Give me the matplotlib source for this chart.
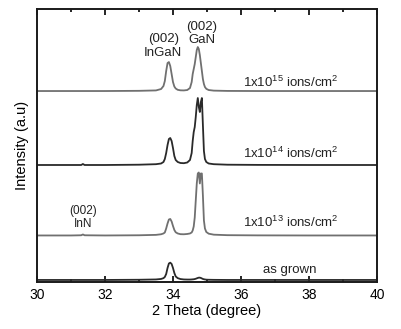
import matplotlib.pyplot as plt

plt.rcParams['font.family'] = ['Liberation Sans', 'DejaVu Sans']
plt.rcParams['mathtext.default'] = 'regular'

# shared 2-theta sampling (degrees)
two_theta = [30.0, 31.0, 31.3, 31.35, 31.4, 32.0, 33.0, 33.5, 33.65, 33.72,
             33.76, 33.80, 33.84, 33.88, 33.92, 33.96, 34.00, 34.04, 34.08, 34.14,
             34.22, 34.32, 34.42, 34.50, 34.55, 34.58, 34.61, 34.64, 34.67, 34.70,
             34.73, 34.76, 34.79, 34.82, 34.85, 34.88, 34.91, 34.94, 34.98, 35.05,
             35.2, 35.6, 36.5, 38.0, 40.0]

as_grown = [0, 0, 0, 0, 0, 0, 0.2, 0.5, 1.0, 1.8,
            3, 6, 12, 16.5, 17.3, 16, 12, 7, 3.5, 1.8,
            0.9, 0.5, 0.4, 0.4, 0.5, 0.6, 0.7, 0.9, 1.2, 1.6,
            2.0, 2.3, 2.3, 2.0, 1.5, 1.0, 0.7, 0.5, 0.3, 0.2,
            0.1, 0, 0, 0, 0]

dose_1e13 = [0, 0, 0.2, 1, 0.2, 0, 0.2, 0.6, 1.2, 2,
             3, 7, 12, 16, 16.5, 14, 9.5, 5.5, 3.2, 2,
             1.3, 1.2, 1.5, 2, 3, 5, 9, 18, 35, 52,
             62, 63, 52, 62, 62, 40, 15, 7, 3.5, 1.8,
             0.8, 0.3, 0.1, 0, 0]

dose_1e14 = [0, 0, 0, 1, 0, 0, 0.3, 0.8, 1.5, 3,
             6, 12, 20, 26, 27, 24, 17, 9, 5, 3,
             2, 1.8, 2.5, 5, 12, 24, 33, 38, 48, 60,
             67, 58, 53, 63, 67, 40, 14, 6, 3, 1.5,
             0.8, 0.3, 0.1, 0, 0]

dose_1e15 = [0, 0, 0, 0, 0, 0, 0.2, 0.6, 2, 5,
             10, 20, 28, 29, 25, 17, 9, 4.5, 2.5, 1.2,
             0.7, 0.6, 1, 3, 9, 17, 22, 27, 34, 41,
             44, 42, 36, 28, 20, 12, 7, 4, 2.2, 1,
             0.4, 0.1, 0, 0, 0]

curves = [as_grown, dose_1e13, dose_1e14, dose_1e15]
offsets = [2, 46.5, 117, 191]
colors = ['#2a2a2a', '#707070', '#2a2a2a', '#707070']
curve_labels = ['as grown', '1x10$^{13}$ ions/cm$^2$',
                '1x10$^{14}$ ions/cm$^2$', '1x10$^{15}$ ions/cm$^2$']


def main():
    fig = plt.figure(figsize=(4.01, 3.29), dpi=100)
    ax = fig.add_axes([0.0923, 0.143, 0.8477, 0.831])

    for y, off, c in zip(curves, offsets, colors):
        ax.plot(two_theta, [v + off for v in y], color=c, lw=1.3)

    # curve labels
    ax.text(36.65, 12, curve_labels[0], fontsize=9.5, ha='left', va='center', color='#222222')
    ax.text(36.06, 60, curve_labels[1], fontsize=9.5, ha='left', va='center', color='#222222')
    ax.text(36.06, 129, curve_labels[2], fontsize=9.5, ha='left', va='center', color='#222222')
    ax.text(36.06, 200, curve_labels[3], fontsize=9.5, ha='left', va='center', color='#222222')

    # peak labels
    ax.text(33.71, 236, '(002)\nInGaN', fontsize=9.5, ha='center', va='center',
            linespacing=1.15, color='#222222')
    ax.text(34.85, 248.5, '(002)\nGaN', fontsize=9.5, ha='center', va='center',
            linespacing=1.15, color='#222222')
    ax.text(31.35, 64.5, '(002)\nInN', fontsize=8.5, ha='center', va='center',
            linespacing=1.2, color='#222222')

    ax.set_xlim(30, 40)
    ax.set_ylim(0, 273.5)
    ax.set_xticks(range(30, 41, 2))
    ax.set_xticks(range(31, 40, 2), minor=True)
    ax.set_yticks([])
    ax.tick_params(axis='x', which='both', direction='in', top=True, labelsize=10,
                   width=1.2, pad=4)
    ax.tick_params(axis='x', which='major', length=4)
    ax.tick_params(axis='x', which='minor', length=2.5)
    for s in ax.spines.values():
        s.set_linewidth(1.4)
        s.set_color('#1a1a1a')

    ax.set_xlabel('2 Theta (degree)', fontsize=10.5, labelpad=2)
    ax.set_ylabel('Intensity (a.u)', fontsize=10.5, labelpad=6)

    fig.savefig('out.png', dpi=100)


if __name__ == "__main__":
    main()
